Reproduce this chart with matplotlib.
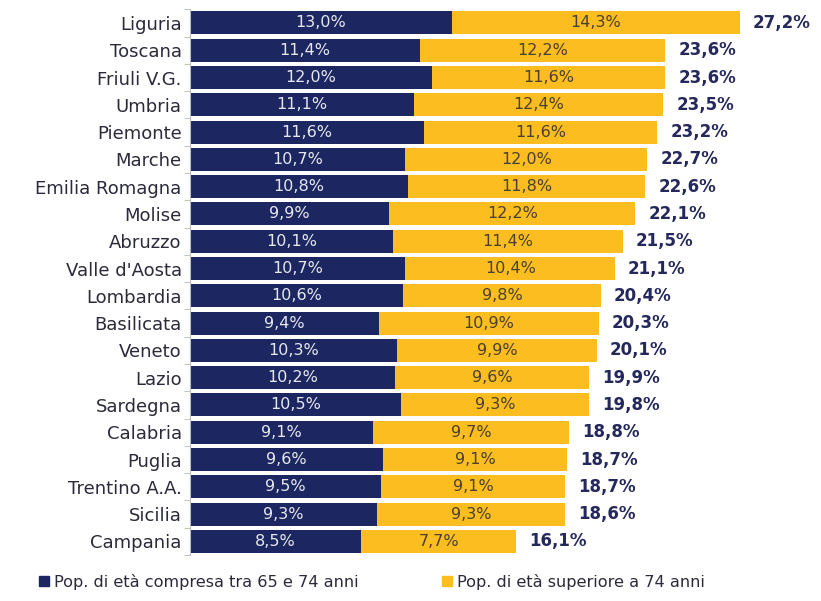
import matplotlib.pyplot as plt
from matplotlib.patches import Patch

regions = ['Liguria', 'Toscana', 'Friuli V.G.', 'Umbria', 'Piemonte', 'Marche',
           'Emilia Romagna', 'Molise', 'Abruzzo', "Valle d'Aosta", 'Lombardia',
           'Basilicata', 'Veneto', 'Lazio', 'Sardegna', 'Calabria', 'Puglia',
           'Trentino A.A.', 'Sicilia', 'Campania']
age_65_74 = [13.0, 11.4, 12.0, 11.1, 11.6, 10.7, 10.8, 9.9, 10.1, 10.7,
             10.6, 9.4, 10.3, 10.2, 10.5, 9.1, 9.6, 9.5, 9.3, 8.5]
age_over_74 = [14.3, 12.2, 11.6, 12.4, 11.6, 12.0, 11.8, 12.2, 11.4, 10.4,
               9.8, 10.9, 9.9, 9.6, 9.3, 9.7, 9.1, 9.1, 9.3, 7.7]
totals = [27.2, 23.6, 23.6, 23.5, 23.2, 22.7, 22.6, 22.1, 21.5, 21.1,
          20.4, 20.3, 20.1, 19.9, 19.8, 18.8, 18.7, 18.7, 18.6, 16.1]

navy = '#1c2660'
yellow = '#fbbd1f'

def fmt(v):
    return f'{v:.1f}%'.replace('.', ',')

fig = plt.figure(figsize=(8.21, 6.01), dpi=100)
ax = fig.add_axes([0.2314, 0.0765, 0.736, 0.908])

y = list(range(len(regions)))
ax.barh(y, age_65_74, height=0.84, color=navy)
ax.barh(y, age_over_74, left=age_65_74, height=0.84, color=yellow)

for i in y:
    a, b = age_65_74[i], age_over_74[i]
    ax.text(a / 2, i, fmt(a), ha='center', va='center', color='#e6e8f0', fontsize=11.5)
    ax.text(a + b / 2, i, fmt(b), ha='center', va='center', color='#4a4030', fontsize=11.5)
    ax.text(a + b + 0.65, i, fmt(totals[i]), ha='left', va='center', color='#24285a',
            fontsize=12, fontweight='bold')

ax.set_xlim(0, 30)
ax.set_ylim(len(regions) - 0.5, -0.5)
ax.set_yticks(y)
ax.set_yticklabels(regions, fontsize=13, color='#2a2a3a')
ax.set_yticks([i - 0.5 for i in range(len(regions) + 1)], minor=True)
ax.tick_params(axis='y', which='major', length=0, pad=6)
ax.tick_params(axis='y', which='minor', length=4, color='#bbbbbb')
ax.set_xticks([])
for s in ['top', 'right', 'bottom']:
    ax.spines[s].set_visible(False)
ax.spines['left'].set_color('#bbbbbb')
ax.spines['left'].set_linewidth(0.8)

handles = [Patch(color=navy, label='Pop. di età compresa tra 65 e 74 anni'),
           Patch(color=yellow, label='Pop. di età superiore a 74 anni')]
fig.legend(handles=handles, loc='lower left', bbox_to_anchor=(0.03, -0.005), ncol=2,
           frameon=False, fontsize=11.6, handlelength=0.6, handleheight=0.6,
           handletextpad=0.3, columnspacing=5.2, labelcolor='#2a2a3a')

fig.savefig('out.png', dpi=100)
